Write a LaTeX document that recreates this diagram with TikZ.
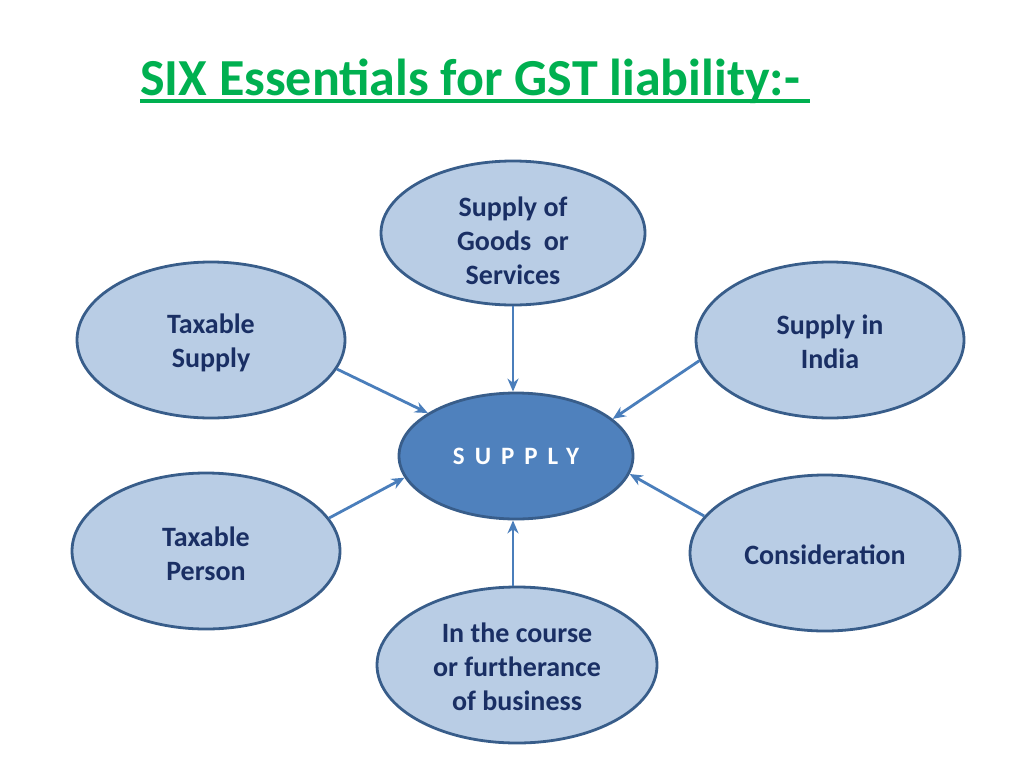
\documentclass[tikz,border=0pt]{standalone}
\usepackage{fontspec}
\setmainfont{Carlito}
\newfontfamily\spacedfont[LetterSpace=40]{Carlito}
\usetikzlibrary{arrows.meta,shapes.geometric}
\definecolor{titlegreen}{HTML}{00B050}
\definecolor{lightfill}{HTML}{B9CDE5}
\definecolor{darkborder}{HTML}{385D8A}
\definecolor{midblue}{HTML}{4F81BD}
\definecolor{arrowblue}{HTML}{4A7EBB}
\definecolor{navytext}{HTML}{1A2F64}
\tikzset{
  leaf/.style={ellipse, draw=darkborder, line width=2.8pt, fill=lightfill, inner sep=0pt},
  leaftext/.style={inner sep=0pt, text=navytext, font=\bfseries\fontsize{28}{34}\selectfont, align=center},
  hub/.style={ellipse, draw=darkborder, line width=2.8pt, fill=midblue, inner sep=0pt,
    text=white, minimum width=234pt, minimum height=126pt},
  link/.style={draw=arrowblue, line width=2.8pt, -{Stealth[length=13pt,width=11pt]}}
}
\begin{document}
\begin{tikzpicture}[x=1pt,y=-1pt]
\useasboundingbox (0,0) rectangle (1024,768);
\node[anchor=base west, text=titlegreen, font=\bfseries\fontsize{52}{56}\selectfont, inner sep=0pt] (title) at (140,95)
  {SIX Essentials for GST liability:-\hspace*{10pt}};
\draw[titlegreen, line width=3.2pt] ([yshift=-6pt]title.base west) -- ([yshift=-6pt]title.base east);
\node[hub] (c) at (516,456) {\spacedfont\bfseries\fontsize{25}{28}\selectfont\raisebox{-2pt}{SUPPLY}};
\node[leaf, minimum width=264pt, minimum height=144pt,
  label={[leaftext, yshift=-8pt]center:{Supply of\\Goods\ \ or\\Services}}] (top) at (513,233) {};
\node[leaf, minimum width=268pt, minimum height=156pt,
  label={[leaftext, yshift=-3pt]center:{Taxable\\Supply}}] (ts) at (211,340) {};
\node[leaf, minimum width=268pt, minimum height=156pt,
  label={[leaftext, yshift=-2pt]center:{Supply in\\India}}] (si) at (830,340) {};
\node[leaf, minimum width=268pt, minimum height=156pt,
  label={[leaftext, yshift=-3pt]center:{Taxable\\Person}}] (tp) at (206,551) {};
\node[leaf, minimum width=270pt, minimum height=156pt,
  label={[leaftext, yshift=-2pt]center:{Consideration}}] (co) at (825,553) {};
\node[leaf, minimum width=280pt, minimum height=156pt,
  label={[leaftext, yshift=-2pt]center:{In the course\\or furtherance\\of business}}] (bu) at (517,665) {};
\draw[link] (top.south) -- (top.south |- c.north);
\draw[link] (ts.-13) -- (c.154);
\draw[link] (si.189.6) -- (c.21);
\draw[link] (tp.15) -- (c.191);
\draw[link] (co.163) -- (c.-9);
\draw[link] (bu.north -| top.south) -- (top.south |- c.south);
\end{tikzpicture}
\end{document}
